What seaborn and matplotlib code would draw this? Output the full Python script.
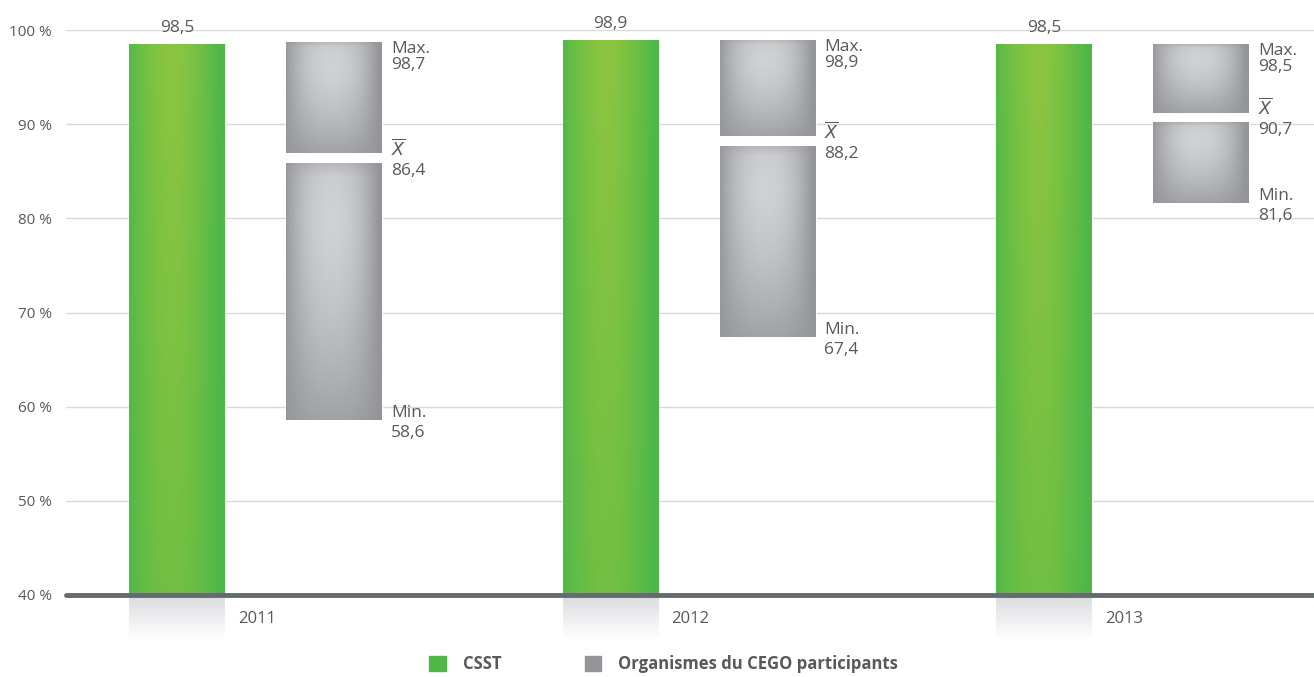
import numpy as np
import pandas as pd
import matplotlib.pyplot as plt
import seaborn as sns
from matplotlib.colors import LinearSegmentedColormap
from matplotlib.patches import Patch

# data
years = ['2011', '2012', '2013']
csst = [98.5, 98.9, 98.5]
cego_max = [98.7, 98.9, 98.5]
cego_mean = [86.4, 88.2, 90.7]
cego_min = [58.6, 67.4, 81.6]

sns.set_theme(style='white')
plt.rcParams['font.family'] = ['Open Sans', 'DejaVu Sans']
txt = '#58595b'

green_cmap = LinearSegmentedColormap.from_list('g', ['#4db848', '#8cc540'])
gray_cmap = LinearSegmentedColormap.from_list('k', ['#949599', '#d0d1d3'])
shadow_cmap = LinearSegmentedColormap.from_list('s', ['#ffffff', '#dcdde0'])


def fmt(v):
    return f'{v:.1f}'.replace('.', ',')


def gradient(kind):
    xx = np.linspace(0, 1, 60)
    yy = np.linspace(0, 1, 80)
    X, Y = np.meshgrid(xx, yy)
    if kind == 'green':
        h = 1 - np.abs(2 * X - 0.9) ** 1.6
        v = 1 - 0.4 * Y
    else:
        # soft vignette, light near upper centre
        h = 1 - np.abs(2 * X - 0.95) ** 2.2
        v = 1 - 0.55 * np.abs(1.6 * Y - 0.35) ** 1.5
        v = np.where(Y < 0.05, v - (0.05 - Y) * 6, v)
    return np.clip(h * v, 0, 1)


def fill_gradient(ax, patch, cmap, kind):
    x0, y0 = patch.get_x(), max(patch.get_y(), 40)
    w = patch.get_width()
    y1 = patch.get_y() + patch.get_height()
    im = ax.imshow(gradient(kind), cmap=cmap, extent=[x0, x0 + w, y0, y1],
                   origin='upper', aspect='auto', zorder=3, vmin=0, vmax=1)
    im.set_clip_path(patch)


fig = plt.figure(figsize=(13.14, 6.77), dpi=100)
ax = fig.add_axes([66 / 1314, 1 - 595 / 677, 1 - 66 / 1314, (595 - 30) / 677])

df = pd.DataFrame({'year': years, 'csst': csst})
bw = 0.221
off = 0.363
sns.barplot(data=df, x='year', y='csst', color='#6cbf44', width=bw,
            saturation=1, ax=ax, zorder=2)
green_bars = list(ax.patches)

gray_bars = []
for i in range(len(years)):
    up = ax.bar(i + off, cego_max[i] - (cego_mean[i] + 0.5), bottom=cego_mean[i] + 0.5,
                width=bw, color='#b3b4b7', zorder=2)
    lo = ax.bar(i + off, (cego_mean[i] - 0.5) - cego_min[i], bottom=cego_min[i],
                width=bw, color='#b3b4b7', zorder=2)
    gray_bars += [up[0], lo[0]]

for p in green_bars:
    fill_gradient(ax, p, green_cmap, 'green')
for p in gray_bars:
    fill_gradient(ax, p, gray_cmap, 'gray')

# reflection under the green bars
for i in range(len(years)):
    sh = np.linspace(0, 1, 50).reshape(-1, 1)
    ax.imshow(sh, cmap=shadow_cmap, extent=[i - bw / 2, i + bw / 2, 35.2, 39.8],
              origin='lower', aspect='auto', clip_on=False, zorder=1, vmin=0, vmax=1)

ax.set_xlim(-0.256, 2.623)
ax.set_ylim(40, 100)
ax.set_yticks(range(40, 101, 10))
ax.set_yticklabels([f'{t} %' for t in range(40, 101, 10)], color=txt, fontsize=11)
ax.tick_params(axis='y', length=0, pad=10)
ax.set_xticks([])
ax.set_xlabel('')
ax.set_ylabel('')
for t in range(50, 101, 10):
    ax.axhline(t, color='#d9d9d9', lw=1, zorder=0)
ax.axhline(40, color='#646a6e', lw=3.5, zorder=4, clip_on=False)
for s in ax.spines.values():
    s.set_visible(False)

# labels
for i, y in enumerate(years):
    ax.text(i, csst[i] + 0.9, fmt(csst[i]), ha='center', va='bottom',
            color=txt, fontsize=12.5)
    ax.text(i + bw / 2 + 0.03, 37.4, y, ha='left', va='center', color=txt,
            fontsize=12, clip_on=False)
    xl = i + off + bw / 2 + 0.02
    ax.text(xl, cego_max[i] + 0.1, 'Max.\n' + fmt(cego_max[i]), ha='left', va='top',
            color=txt, fontsize=12.5, linespacing=0.95)
    ax.text(xl, cego_mean[i] - 0.1, r'$\overline{X}$', ha='left', va='bottom',
            color=txt, fontsize=12.5)
    ax.text(xl, cego_mean[i] - 0.5, fmt(cego_mean[i]), ha='left', va='top',
            color=txt, fontsize=12.5)
    ax.text(xl, cego_min[i] - 0.1, 'Min.', ha='left', va='bottom',
            color=txt, fontsize=12.5)
    ax.text(xl, cego_min[i] - 0.5, fmt(cego_min[i]), ha='left', va='top',
            color=txt, fontsize=12.5)

handles = [Patch(color='#4db848', label='CSST'),
           Patch(color='#949599', label='Organismes du CEGO participants')]
leg = fig.legend(handles=handles, loc='center', bbox_to_anchor=(0.505, 0.019),
                 ncol=2, frameon=False, handlelength=1.0, handleheight=1.0,
                 columnspacing=5.0, handletextpad=1.0,
                 prop={'size': 12, 'weight': 'bold'})
for t in leg.get_texts():
    t.set_color(txt)

fig.savefig('out.png', dpi=100)
